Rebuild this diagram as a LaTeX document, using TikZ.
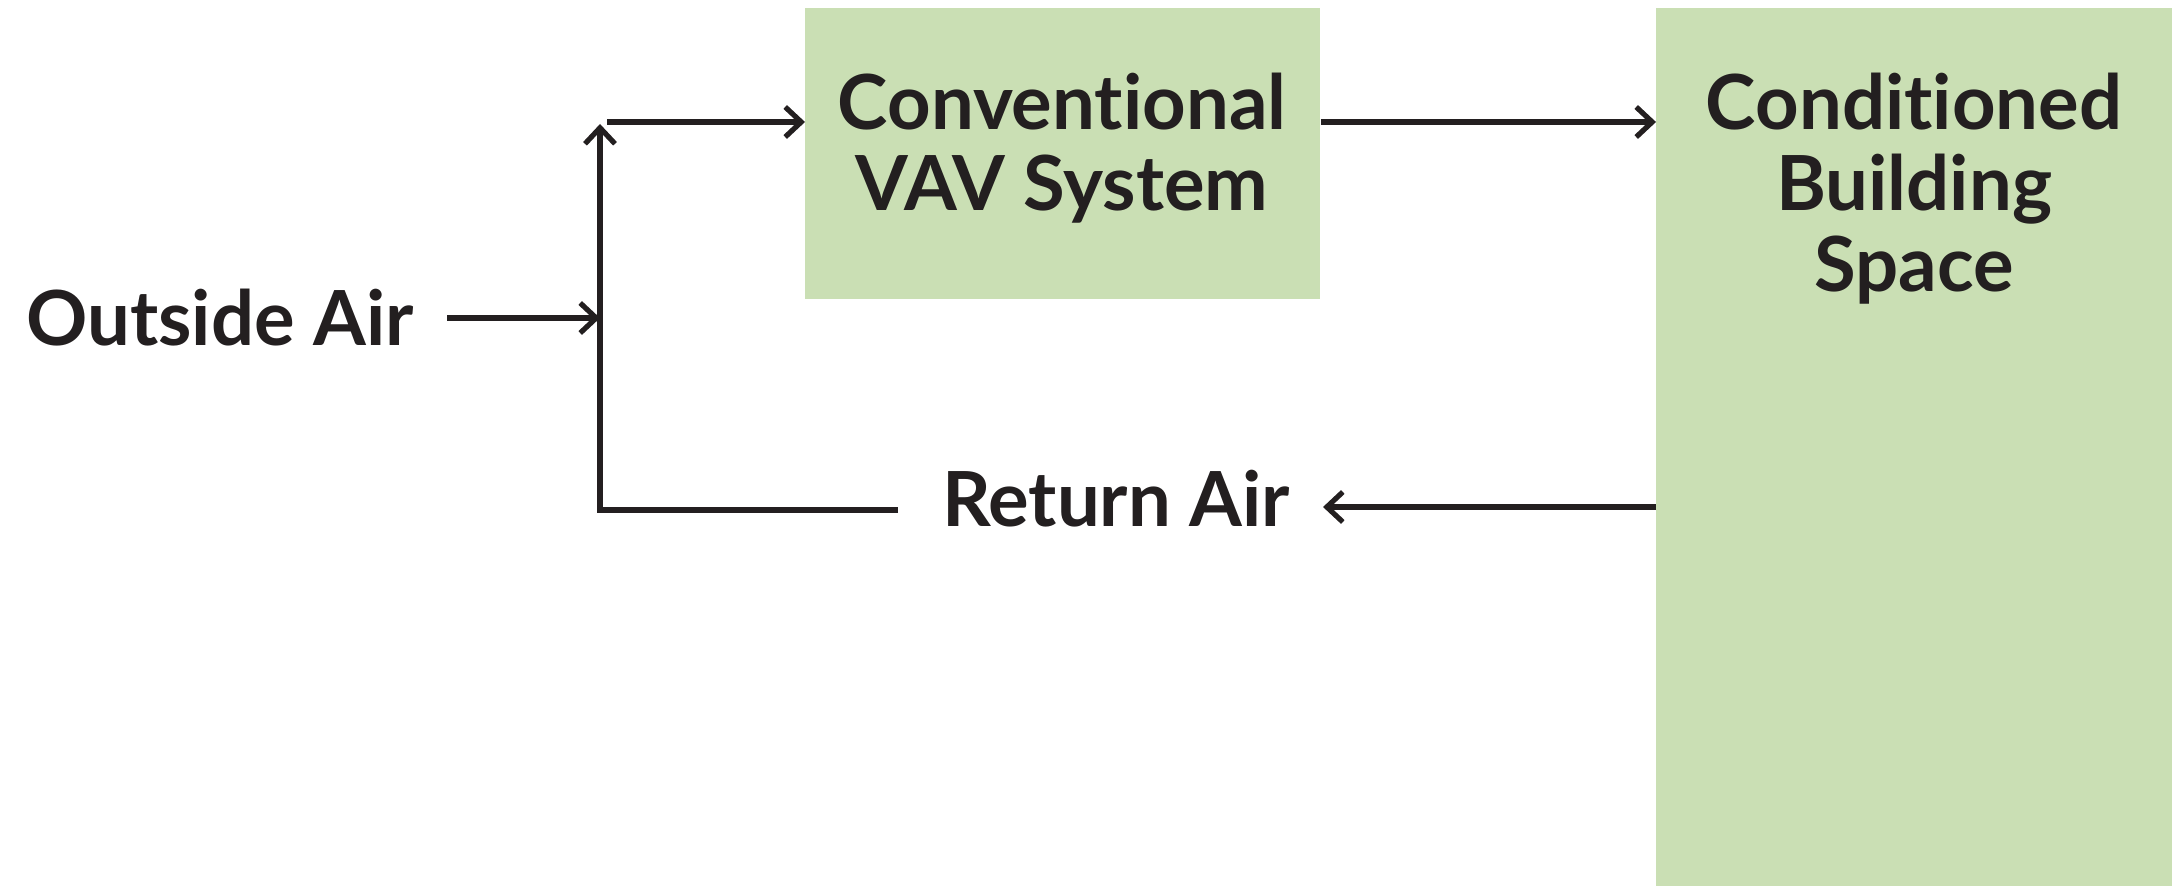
\documentclass[tikz,border=0pt]{standalone}
\usepackage{fontspec}
\setmainfont{Lato}[RawFeature=-liga]
\usetikzlibrary{arrows.meta}
\definecolor{boxgreen}{HTML}{CADFB4}
\definecolor{ink}{HTML}{231F20}
\begin{document}
\begin{tikzpicture}[x=0.5pt,y=-0.5pt,
  lbl/.style={font=\fontsize{38}{40.5}\selectfont\bfseries, text=ink, align=center, inner sep=0pt},
  box/.style={fill=boxgreen, draw=none, inner sep=0pt, anchor=north west},
  flow/.style={draw=ink, line width=2.8pt, -{Straight Barb[length=8pt,width=15pt,line width=2.6pt]}},
  plain/.style={draw=ink, line width=2.8pt}]
\useasboundingbox (0,0) rectangle (2172,886);
\node[box, minimum width=257.5pt, minimum height=145.5pt] (vav) at (805,8) {};
\node[box, minimum width=258pt, minimum height=439pt] (cond) at (1656,8) {};
\node[lbl] (vavt) at (1062,148) {Conventional\\VAV System};
\node[lbl] (condt) at (1914,189) {Conditioned\\Building\\Space};
\node[lbl] (oa) at (220,318) {Outside Air};
\node[lbl] (ret) at (1116,499) {Return Air};
\coordinate (jmid) at (600,318);
\coordinate (jbot) at (600,510);
\coordinate (jtop) at (600,124);
\coordinate (tstart) at (607,122);
\coordinate (oaend) at (447,318);
\coordinate (retstart) at (898,510);
\coordinate (rettip) at (1323,507);
\draw[flow] (oaend) -- (jmid);
\draw[flow] (retstart) -- (jbot) -- (jtop);
\draw[flow] (tstart) -- (vav.west |- tstart);
\draw[flow] (vav.east |- tstart) -- (cond.west |- tstart);
\draw[flow] (cond.west |- rettip) -- (rettip);
\end{tikzpicture}
\end{document}
